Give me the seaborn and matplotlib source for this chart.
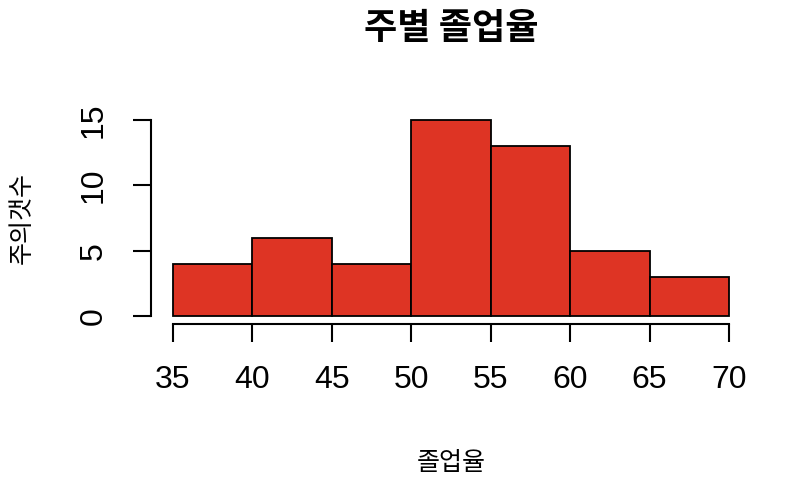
import matplotlib
matplotlib.use("Agg")
import matplotlib.pyplot as plt
import seaborn as sns
import numpy as np

sns.set_style("white")
plt.rcParams['font.family'] = ['Liberation Sans', 'Noto Sans CJK KR', 'DejaVu Sans']
plt.rcParams['text.color'] = 'black'
plt.rcParams['axes.labelcolor'] = 'black'

# histogram of weekly graduation rate
bin_edges = [35, 40, 45, 50, 55, 60, 65, 70]
counts = [4, 6, 4, 15, 13, 5, 3]
x_ticks = [35, 40, 45, 50, 55, 60, 65, 70]
y_ticks = [0, 5, 10, 15]

mids = [(a + b) / 2 for a, b in zip(bin_edges[:-1], bin_edges[1:])]

fig = plt.figure(figsize=(8.12, 4.88), dpi=100)
ax = fig.add_axes([0.1857, 0.3365, 0.7394, 0.4336])

sns.histplot(x=mids, weights=counts, bins=bin_edges, color='#DE3424',
             alpha=1, edgecolor='black', linewidth=1.3, ax=ax)

ax.set_xlim(33.6, 71.4)
ax.set_ylim(-0.6, 15.6)

for s in ['top', 'right']:
    ax.spines[s].set_visible(False)
ax.spines['bottom'].set_bounds(35, 70)
ax.spines['left'].set_bounds(0, 15)
ax.spines['bottom'].set_linewidth(1.5)
ax.spines['left'].set_linewidth(1.5)
ax.spines['bottom'].set_color('black')
ax.spines['left'].set_color('black')

ax.set_xticks(x_ticks)
ax.set_yticks(y_ticks)
ax.tick_params(axis='both', direction='out', length=13, width=1.5,
               colors='black', labelsize=23, pad=17, bottom=True, left=True)
for lab in ax.get_yticklabels():
    lab.set_rotation(90)
    lab.set_va('center')

ax.set_xlabel('졸업율', fontsize=18, family='Noto Sans CJK KR')
ax.set_ylabel('주의갯수', fontsize=18, family='Noto Sans CJK KR')
ax.xaxis.set_label_coords(0.5, -0.658)
ax.yaxis.set_label_coords(-0.2145, 0.5)
ax.xaxis.label.set_va('center')
ax.yaxis.label.set_va('center')
ax.set_title('주별 졸업율', fontsize=26, fontweight='bold',
             family='Noto Sans CJK KR', y=1.355, va='center')
ax.grid(False)

fig.savefig('out.png', dpi=100)
